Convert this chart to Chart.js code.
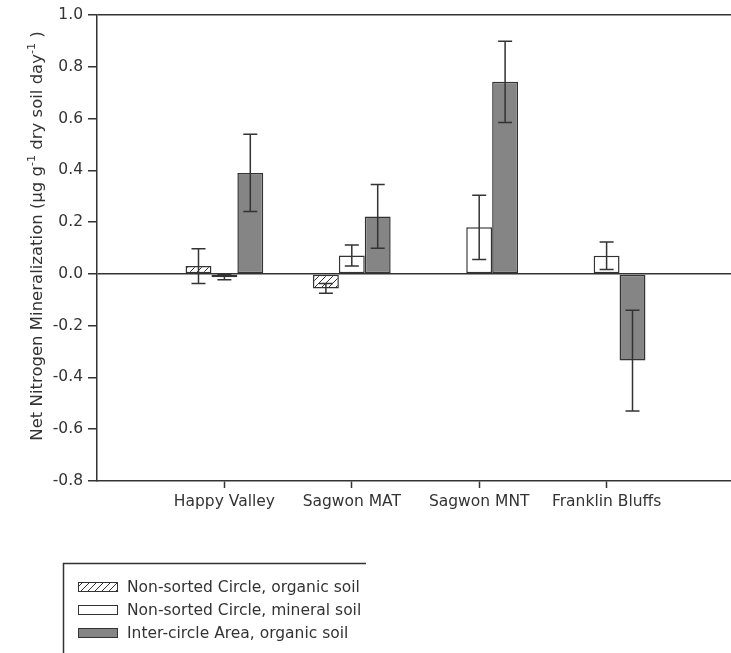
<!DOCTYPE html>
<html>
<head>
<meta charset="utf-8">
<script src="https://cdn.jsdelivr.net/npm/chart.js@4.4.1/dist/chart.umd.min.js"></script>
<style>
    body { margin: 0; background: #fff; overflow: hidden; }
    #wrap { position: relative; width: 739px; height: 653px; }
</style>
</head>
<body>
<div id="wrap"><canvas id="chart"></canvas></div>
<script>
// sites along the x axis
const sites = ["Happy Valley", "Sagwon MAT", "Sagwon MNT", "Franklin Bluffs"]
// net N mineralization, ug g-1 dry soil day-1
const circleOrganic = [0.030, -0.056, null, null]
const circleOrganicErr = [0.067, 0.019, null, null]
const circleMineral = [-0.013, 0.071, 0.180, 0.070]
const circleMineralErr = [0.010, 0.041, 0.124, 0.053]
const interOrganic = [0.390, 0.222, 0.742, -0.335]
const interOrganicErr = [0.149, 0.123, 0.157, 0.195]
const seriesNames = ["Non-sorted Circle, organic soil", "Non-sorted Circle, mineral soil", "Inter-circle Area, organic soil"]
const yTicks = [-0.8, -0.6, -0.4, -0.2, 0.0, 0.2, 0.4, 0.6, 0.8, 1.0]

const FONT = "'DejaVu Sans', sans-serif"
const INK = "#333333"

// empty slot on each side, like the original plot
const pad = (arr) => [null].concat(arr, [null])
const labels = pad(sites).map((v) => v || "")

function hatch() {
    var c = document.createElement("canvas")
    c.width = 7
    c.height = 7
    var g = c.getContext("2d")
    g.fillStyle = "#fff"
    g.fillRect(0, 0, 7, 7)
    g.strokeStyle = INK
    g.lineWidth = 1
    g.beginPath()
    g.moveTo(0, 7); g.lineTo(7, 0)
    g.moveTo(-1, 1); g.lineTo(1, -1)
    g.moveTo(6, 8); g.lineTo(8, 6)
    g.stroke()
    return g.createPattern(c, "repeat")
}

const errorBars = {
    id: "errorBars",
    afterDatasetsDraw(chart) {
        var ctx = chart.ctx
        var y = chart.scales.y
        ctx.save()
        ctx.strokeStyle = INK
        ctx.lineWidth = 1.5
        chart.data.datasets.forEach((ds, i) => {
            var meta = chart.getDatasetMeta(i)
            meta.data.forEach((bar, j) => {
                var v = ds.data[j]
                var e = ds.errors[j]
                if (v == null || e == null) return
                var top = y.getPixelForValue(v + e)
                var bot = y.getPixelForValue(v - e)
                ctx.beginPath()
                ctx.moveTo(bar.x, top); ctx.lineTo(bar.x, bot)
                ctx.moveTo(bar.x - 7, top); ctx.lineTo(bar.x + 7, top)
                ctx.moveTo(bar.x - 7, bot); ctx.lineTo(bar.x + 7, bot)
                ctx.stroke()
            })
        })
        ctx.restore()
    }
}

const extras = {
    id: "extras",
    afterDraw(chart) {
        var ctx = chart.ctx
        ctx.save()
        // y axis title with superscripts
        var parts = [
            ["Net Nitrogen Mineralization (\u00b5g g", false],
            ["-1", true],
            [" dry soil day", false],
            ["-1", true],
            [" )", false]
        ]
        var big = "16.5px " + FONT, small = "11px " + FONT
        var total = 0
        parts.forEach((p) => { ctx.font = p[1] ? small : big; total += ctx.measureText(p[0]).width })
        ctx.translate(42, 236)
        ctx.rotate(-Math.PI / 2)
        ctx.fillStyle = INK
        ctx.textBaseline = "alphabetic"
        var x = -total / 2
        parts.forEach((p) => {
            ctx.font = p[1] ? small : big
            ctx.fillText(p[0], x, p[1] ? -7 : 0)
            x += ctx.measureText(p[0]).width
        })
        ctx.restore()

        // legend box, only top and left sides show
        ctx.save()
        ctx.strokeStyle = INK
        ctx.lineWidth = 1.5
        ctx.beginPath()
        ctx.moveTo(366, 563.5); ctx.lineTo(63.5, 563.5); ctx.lineTo(63.5, 653)
        ctx.stroke()
        ctx.font = "15.5px " + FONT
        ctx.textBaseline = "middle"
        ctx.fillStyle = INK
        chart.data.datasets.forEach((ds, i) => {
            var cy = 587 + i * 23
            ctx.fillStyle = ds.backgroundColor
            ctx.fillRect(78, cy - 4.5, 40, 9)
            ctx.lineWidth = 1
            ctx.strokeRect(78.5, cy - 4.5, 39, 9)
            ctx.fillStyle = INK
            ctx.fillText(ds.label, 127, cy + 1)
        })
        ctx.restore()
    }
}

const chart = new Chart(document.getElementById("chart"), {
    type: "bar",
    data: {
        labels: labels,
        datasets: [
            { label: seriesNames[0], data: pad(circleOrganic), errors: pad(circleOrganicErr), backgroundColor: hatch() },
            { label: seriesNames[1], data: pad(circleMineral), errors: pad(circleMineralErr), backgroundColor: "#ffffff" },
            { label: seriesNames[2], data: pad(interOrganic), errors: pad(interOrganicErr), backgroundColor: "#858585" }
        ].map((d) => Object.assign(d, { borderColor: INK, borderWidth: 1.5, borderSkipped: false }))
    },
    options: {
        responsive: true,
        maintainAspectRatio: false,
        animation: false,
        categoryPercentage: 0.61,
        barPercentage: 1.0,
        layout: { padding: { top: 15, left: 0, right: 0, bottom: 0 } },
        plugins: {
            legend: { display: false },
            tooltip: { enabled: false }
        },
        scales: {
            x: {
                offset: false,
                grid: {
                    offset: false,
                    drawOnChartArea: false,
                    tickLength: 7,
                    tickWidth: 1.5,
                    tickColor: (c) => (labels[c.index] ? INK : "rgba(0,0,0,0)")
                },
                border: { color: INK, width: 1.5 },
                ticks: {
                    autoSkip: false,
                    maxRotation: 0,
                    padding: 5,
                    color: INK,
                    font: { family: FONT, size: 15.5 }
                },
                afterFit: (s) => { s.height = 653 - 481 }
            },
            y: {
                min: yTicks[0],
                max: yTicks[yTicks.length - 1],
                afterBuildTicks: (s) => { s.ticks = yTicks.map((v) => ({ value: v })) },
                grid: {
                    color: (c) => (c.tick && (Math.abs(c.tick.value) < 1e-9 || Math.abs(c.tick.value - 1) < 1e-9) ? INK : "rgba(0,0,0,0)"),
                    lineWidth: 1.5,
                    tickColor: INK,
                    tickLength: 9,
                    tickWidth: 1.5
                },
                border: { color: INK, width: 1.5 },
                ticks: {
                    padding: 5,
                    color: INK,
                    font: { family: FONT, size: 15.5 },
                    callback: (v) => Number(v).toFixed(1)
                },
                afterFit: (s) => { s.width = 97 }
            }
        }
    },
    plugins: [errorBars, extras]
})
</script>
</body>
</html>
